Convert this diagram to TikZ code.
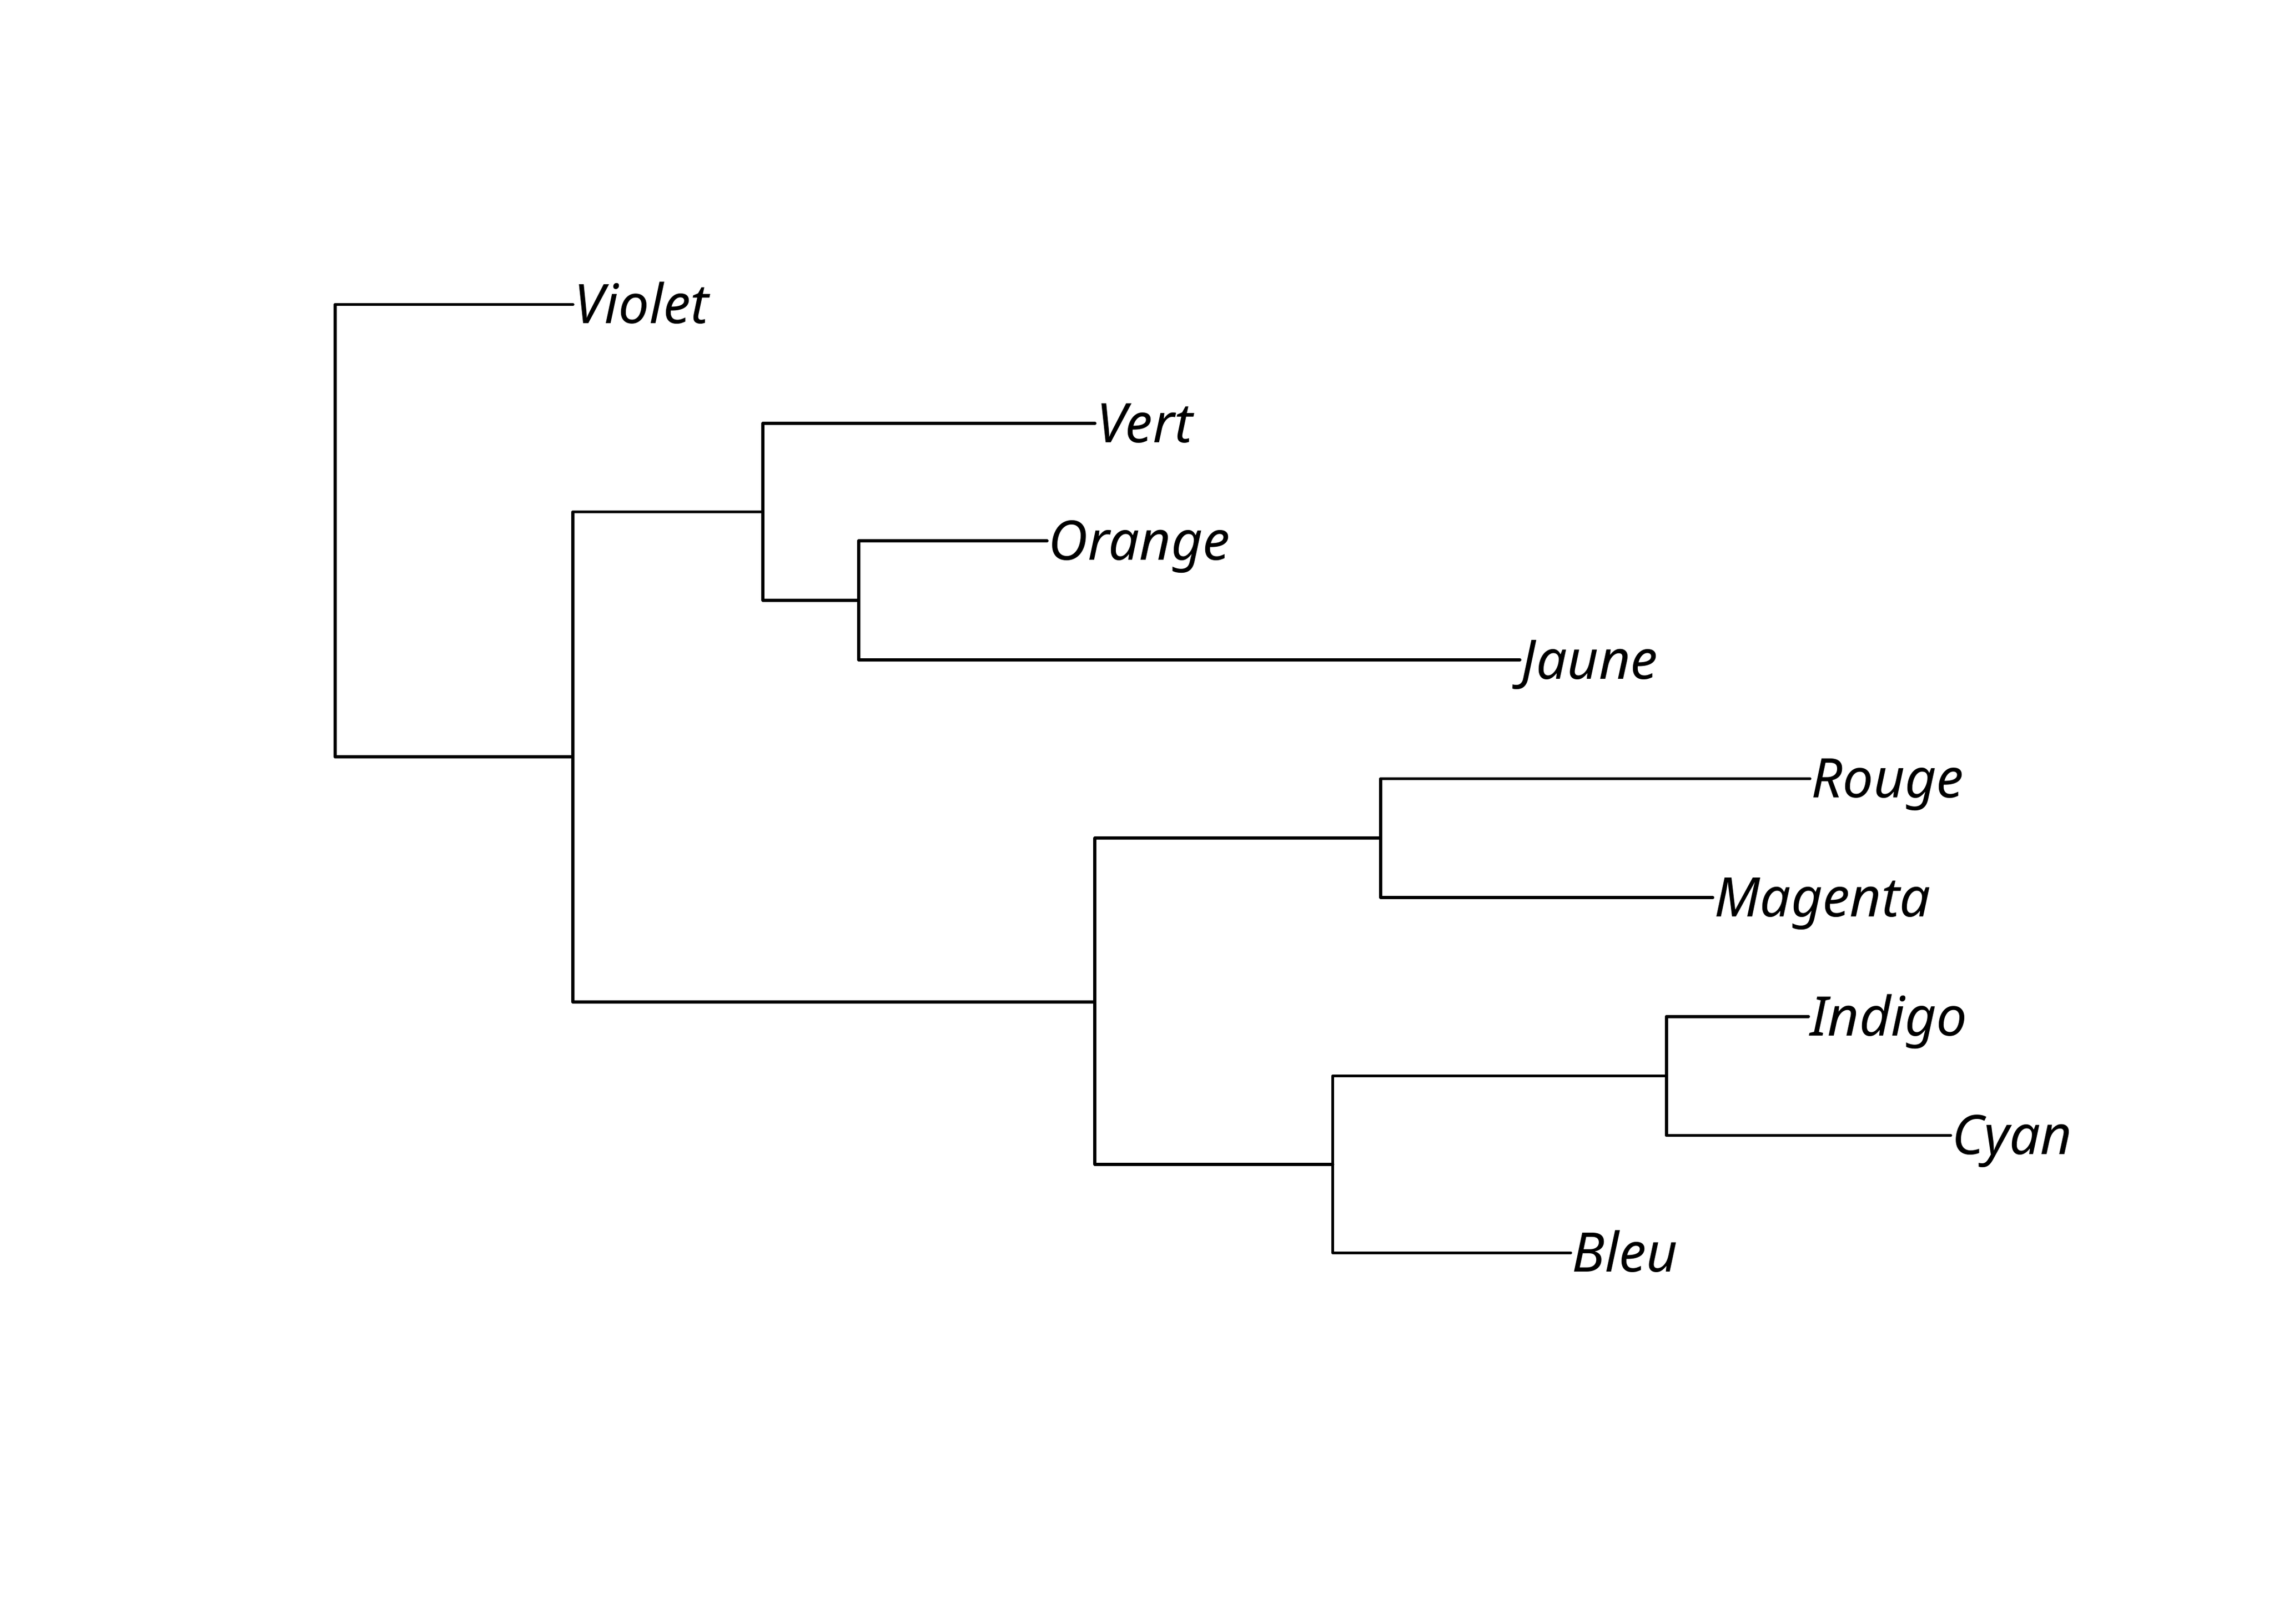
\documentclass[tikz,border=0pt]{standalone}
\usepackage{fontspec}
\setmainfont{Noto Sans}
\begin{document}
\begin{tikzpicture}[x=0.01cm,y=-0.01cm,line width=0.6pt,line cap=round,line join=round,
  leaf/.style={anchor=west,inner sep=0pt,text height=0.75em,text depth=0pt,font=\fontsize{10.7}{12}\selectfont\itshape}]
\useasboundingbox (0,0) rectangle (1568,1120);
% inner nodes
\coordinate (root) at (231,366);
\coordinate (n1) at (395,522);
\coordinate (n2) at (526,353);
\coordinate (n3) at (755,691);
\coordinate (n4) at (592,414);
\coordinate (n5) at (952,578);
\coordinate (n6) at (919,803);
\coordinate (n7) at (1149,742);
% tips
\node[leaf] (violet) at (395,210) {Violet};
\node[leaf] (vert) at (755,292) {Vert};
\node[leaf] (orange) at (722,373) {Orange};
\node[leaf] (jaune) at (1048,455) {Jaune};
\node[leaf] (rouge) at (1248,537) {Rouge};
\node[leaf] (magenta) at (1181,619) {Magenta};
\node[leaf] (indigo) at (1247,701) {Indigo};
\node[leaf] (cyan) at (1345,783) {Cyan};
\node[leaf] (bleu) at (1083,864) {Bleu};
% branches
\draw (root) |- (violet.west);
\draw (root) |- (n1);
\draw (n1) |- (n2);
\draw (n1) |- (n3);
\draw (n2) |- (vert.west);
\draw (n2) |- (n4);
\draw (n4) |- (orange.west);
\draw (n4) |- (jaune.west);
\draw (n3) |- (n5);
\draw (n3) |- (n6);
\draw (n5) |- (rouge.west);
\draw (n5) |- (magenta.west);
\draw (n6) |- (n7);
\draw (n6) |- (bleu.west);
\draw (n7) |- (indigo.west);
\draw (n7) |- (cyan.west);
\end{tikzpicture}
\end{document}
